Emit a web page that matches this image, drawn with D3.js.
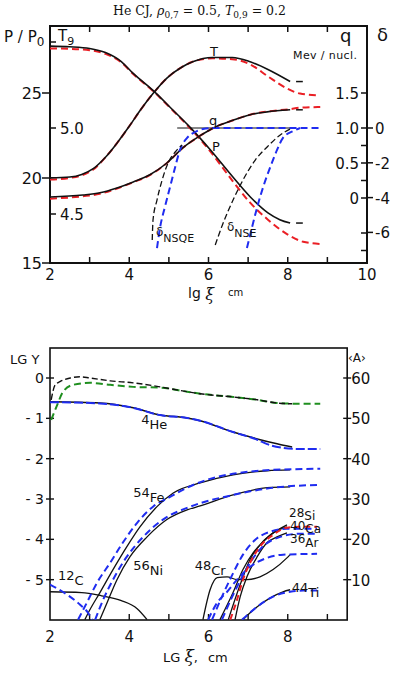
<!DOCTYPE html>
<html><head><meta charset="utf-8">
<script src="https://cdn.jsdelivr.net/npm/d3@7/dist/d3.min.js"></script>
<style>
body{margin:0;background:#fff}
svg text{font-family:"DejaVu Sans",sans-serif;fill:#111}
</style></head>
<body><svg id="c" width="399" height="675"></svg>
<script>
// ---------- DATA (top panel) ----------
const xTickLabels = [2, 4, 6, 8, 10];
const pTicks = [15, 20, 25];
const tTicks = [4.5, 5.0];
const qTicks = [0, 0.5, 1.0, 1.5];
const dTicks = [0, -2, -4, -6];
// [lg xi, value]
const T_black = [[2.0,4.71],[2.5,4.715],[2.8,4.73],[3.1,4.765],[3.4,4.83],[3.7,4.915],[4.0,5.01],[4.3,5.11],[4.6,5.20],[4.95,5.29],[5.3,5.35],[5.6,5.385],[6.1,5.41],[6.6,5.41],[7.05,5.385],[7.5,5.34],[8.06,5.27]];
const T_red = [[2.0,4.70],[2.5,4.71],[2.8,4.725],[3.1,4.76],[3.4,4.83],[3.7,4.915],[4.0,5.01],[4.3,5.11],[4.6,5.20],[4.95,5.29],[5.3,5.35],[5.6,5.385],[6.1,5.405],[6.6,5.40],[7.05,5.37],[7.5,5.30],[7.98,5.23],[8.31,5.20],[8.77,5.19]];
const P_black = [[2.0,27.76],[2.5,27.72],[3.0,27.62],[3.4,27.38],[3.8,26.85],[4.1,26.15],[4.6,25.15],[5.1,24.0],[5.55,22.95],[6.05,21.65],[6.6,20.1],[7.05,18.9],[7.5,17.95],[7.8,17.55],[8.06,17.35]];
const P_red = [[2.0,27.62],[2.5,27.6],[3.0,27.52],[3.4,27.3],[3.8,26.8],[4.1,26.12],[4.6,25.12],[5.1,23.97],[5.55,22.9],[6.05,21.55],[6.6,19.85],[7.05,18.55],[7.5,17.55],[7.98,16.7],[8.39,16.25],[8.82,16.12]];
const q_black = [[2.00,0.014],[2.83,0.043],[3.26,0.075],[3.69,0.143],[4.10,0.229],[4.53,0.335],[4.95,0.50],[5.36,0.72],[5.79,0.89],[6.12,1.00],[6.62,1.11],[7.05,1.19],[7.48,1.23],[8.06,1.26]];
const q_red = [[2.00,-0.01],[2.83,0.025],[3.26,0.06],[3.69,0.135],[4.10,0.225],[4.53,0.33],[4.95,0.50],[5.36,0.72],[5.79,0.89],[6.12,1.00],[6.62,1.11],[7.05,1.19],[7.48,1.235],[8.06,1.27],[8.31,1.29],[8.82,1.30]];
const dNSQE_black = [[4.58,-6.44],[4.60,-5.29],[4.70,-4.14],[4.83,-2.99],[4.98,-2.01],[5.16,-1.38],[5.33,-0.98]];
const dNSQE_blue = [[4.70,-6.90],[4.78,-5.69],[4.90,-4.54],[5.03,-3.39],[5.16,-2.24],[5.28,-1.26],[5.46,-0.57],[5.66,-0.23],[5.86,-0.06],[6.17,0],[8.82,0]];
const dNSE_black = [[6.17,-6.72],[6.37,-5.46],[6.62,-4.14],[6.87,-2.99],[7.18,-1.84],[7.48,-1.09],[7.81,-0.40],[8.11,0]];
const dNSE_blue = [[6.97,-6.90],[7.10,-5.69],[7.23,-4.54],[7.38,-3.39],[7.56,-2.24],[7.73,-1.26],[7.88,-0.57],[8.14,-0.17],[8.31,0]];
const d_zeroLine = [[5.21,0],[8.11,0]];

// ---------- DATA (bottom panel) ----------
const lgYTicks = [0, -1, -2, -3, -4, -5];
const aTicks = [10, 20, 30, 40, 50, 60];
const xTickLabelsB = [2, 4, 6, 8];
const A_black = [[2.03,54.6],[2.13,58.3],[2.25,59.1],[2.51,60.0],[2.76,60.3],[3.01,60.0],[3.52,59.3],[4.10,58.8],[4.78,57.8],[5.46,56.6],[5.79,56.1],[6.62,55.3],[7.23,54.6],[7.73,53.8],[8.11,53.6]];
const A_green = [[2.03,49.6],[2.18,53.3],[2.33,56.6],[2.58,58.3],[3.01,58.8],[3.52,58.3],[4.10,57.8],[4.78,57.6],[5.46,56.6],[5.79,56.1],[6.62,55.3],[7.23,54.6],[7.73,53.8],[8.31,53.6],[8.82,53.6]];
const He_black = [[2.00,-0.59],[3.26,-0.62],[4.10,-0.74],[4.78,-0.92],[5.46,-0.99],[5.79,-1.06],[6.62,-1.34],[7.23,-1.51],[7.73,-1.63],[8.11,-1.71]];
const He_blue = [[2.00,-0.60],[3.26,-0.63],[4.10,-0.74],[4.78,-0.92],[5.46,-0.99],[5.79,-1.06],[6.62,-1.34],[7.23,-1.53],[7.48,-1.64],[7.88,-1.73],[8.31,-1.76],[8.82,-1.76]];
const Fe_black = [[2.88,-5.99],[3.01,-5.74],[3.26,-5.32],[3.59,-4.75],[3.94,-4.18],[4.27,-3.69],[4.70,-3.19],[5.11,-2.85],[5.79,-2.60],[6.62,-2.40],[7.48,-2.30],[8.06,-2.28]];
const Fe_blue = [[2.71,-5.99],[2.93,-5.57],[3.19,-5.07],[3.52,-4.58],[3.84,-4.08],[4.20,-3.59],[4.60,-3.19],[5.03,-2.95],[5.46,-2.72],[6.04,-2.50],[6.80,-2.35],[7.56,-2.28],[8.82,-2.25]];
const Ni_black = [[3.26,-5.99],[3.44,-5.57],[3.69,-5.00],[4.02,-4.43],[4.45,-3.94],[4.95,-3.51],[5.46,-3.27],[5.79,-3.17],[6.62,-2.90],[7.48,-2.72],[8.06,-2.70]];
const Ni_blue = [[3.14,-5.99],[3.34,-5.50],[3.59,-5.00],[3.94,-4.43],[4.35,-3.94],[4.85,-3.51],[5.54,-3.19],[6.62,-2.90],[7.48,-2.74],[8.74,-2.65]];
const C_black = [[2.00,-5.30],[2.80,-5.32],[3.30,-5.40],[3.80,-5.52],[4.20,-5.72],[4.45,-5.99]];
const C_blue = [[2.00,-5.12],[2.43,-5.37],[2.76,-5.62],[2.96,-5.82],[3.06,-5.99]];
const Cr_black = [[5.86,-5.99],[6.04,-5.25],[6.22,-4.95],[6.47,-4.93],[6.72,-5.00],[6.97,-5.00],[7.30,-4.93],[7.63,-4.75],[7.98,-4.46],[8.06,-4.38]];
const Cr_blue = [[5.99,-5.99],[6.22,-5.57],[6.47,-5.30],[6.72,-5.00],[7.05,-4.68],[7.48,-4.46],[7.88,-4.38],[8.74,-4.36]];
const Si_black = [[6.29,-5.99],[6.62,-5.32],[6.87,-4.75],[7.13,-4.33],[7.38,-4.06],[7.63,-3.84],[7.98,-3.69]];
const Ca_black = [[6.50,-5.99],[6.80,-5.12],[7.05,-4.50],[7.35,-4.08],[7.68,-3.81],[7.98,-3.64]];
const Ar_black = [[6.67,-5.99],[6.80,-5.42],[6.97,-4.93],[7.23,-4.43],[7.48,-4.08],[7.73,-3.94],[7.98,-3.84]];
const Ca_red = [[6.55,-5.99],[6.72,-5.50],[6.87,-5.00],[7.05,-4.58],[7.30,-4.18],[7.63,-3.89],[7.98,-3.71],[8.31,-3.69],[8.74,-3.69]];
const Si_blue = [[6.09,-5.99],[6.34,-5.42],[6.60,-4.88],[6.87,-4.38],[7.18,-4.01],[7.56,-3.81],[7.98,-3.74],[8.74,-3.74]];
const Ar_blue = [[6.34,-5.99],[6.60,-5.42],[6.85,-4.93],[7.13,-4.46],[7.43,-4.13],[7.81,-3.94],[8.31,-3.86],[8.74,-3.86]];
const Ti_black = [[6.87,-5.99],[7.23,-5.67],[7.56,-5.45],[7.88,-5.30],[8.06,-5.25]];
const Ti_blue = [[6.85,-5.99],[7.23,-5.67],[7.63,-5.42],[8.06,-5.30],[8.39,-5.27],[8.74,-5.27]];

// ---------- DRAW ----------
const svg = d3.select("#c");
const RED = "#ea1f25", BLUE = "#1f2cf0", GREEN = "#1f8f1f", BLK = "#111";

const title = svg.append("text").attr("x",199.5).attr("y",15).attr("text-anchor","middle")
  .style("font-family","'DejaVu Serif','Liberation Serif',serif").style("font-size","12.5px");
title.append("tspan").text("He CJ, ");
title.append("tspan").style("font-style","italic").text("ρ");
title.append("tspan").attr("dy",3).style("font-size","9px").text("0,7");
title.append("tspan").attr("dy",-3).text(" = 0.5, ");
title.append("tspan").style("font-style","italic").text("T");
title.append("tspan").attr("dy",3).style("font-size","9px").text("0,9");
title.append("tspan").attr("dy",-3).text(" = 0.2");

// ===== TOP PANEL =====
const x = d3.scaleLinear([2,10],[50,367]);
const yP = d3.scaleLinear([15,30],[263,8]);
const yT = d3.scaleLinear([4.5,5.5],[214,42]);
const yQ = d3.scaleLinear([0,1.5],[198,93]);
const yD = d3.scaleLinear([-6,0],[232.4,128]);
const topY0 = 26, topY1 = 263;

const gTop = svg.append("g");
gTop.append("rect").attr("x",x(2)).attr("y",topY0).attr("width",x(10)-x(2)).attr("height",topY1-topY0)
  .attr("fill","none").attr("stroke",BLK).attr("stroke-width",2);

const intTicks = d3.range(2,11);
gTop.selectAll(".bt").data(intTicks).join("line")
  .attr("x1",d=>x(d)).attr("x2",d=>x(d)).attr("y1",topY1).attr("y2",topY1-6).attr("stroke",BLK).attr("stroke-width",1.5);
gTop.selectAll(".tt").data(intTicks).join("line")
  .attr("x1",d=>x(d)).attr("x2",d=>x(d)).attr("y1",topY0).attr("y2",topY0+6).attr("stroke",BLK).attr("stroke-width",1.5);
gTop.selectAll(".bl").data(xTickLabels).join("text")
  .attr("x",d=>x(d)).attr("y",280).attr("text-anchor","middle").style("font-size","15px").text(d=>d);

gTop.selectAll(".pt").data(pTicks).join("line")
  .attr("x1",x(2)-8).attr("x2",x(2)).attr("y1",d=>yP(d)).attr("y2",d=>yP(d)).attr("stroke",BLK).attr("stroke-width",1.5);
gTop.selectAll(".pl").data(pTicks).join("text")
  .attr("x",x(2)-8).attr("y",d=>yP(d)+6).attr("text-anchor","end").style("font-size","16px").text(d=>d);
gTop.selectAll(".tk").data([4.5,5.0,5.5]).join("line")
  .attr("x1",x(2)).attr("x2",x(2)+6).attr("y1",d=>yT(d)).attr("y2",d=>yT(d)).attr("stroke",BLK).attr("stroke-width",1.5);
gTop.selectAll(".tl").data(tTicks).join("text")
  .attr("x",x(2)+10).attr("y",d=>yT(d)+6).style("font-size","15px").text(d=>d.toFixed(1));

gTop.selectAll(".qk").data([1.5,1.0,0.75,0.5,0.25,0,-0.5,-0.75]).join("line")
  .attr("x1",x(10)-6).attr("x2",x(10)).attr("y1",d=>yQ(d)).attr("y2",d=>yQ(d)).attr("stroke",BLK).attr("stroke-width",1.5);
gTop.selectAll(".ql").data(qTicks).join("text")
  .attr("x",x(10)-8).attr("y",d=>yQ(d)+6).attr("text-anchor","end").style("font-size","15px").text(d=>d===0?"0":d.toFixed(1));
gTop.selectAll(".dk").data(dTicks).join("line")
  .attr("x1",x(10)).attr("x2",x(10)+6).attr("y1",d=>yD(d)).attr("y2",d=>yD(d)).attr("stroke",BLK).attr("stroke-width",1.5);
gTop.selectAll(".dl").data(dTicks).join("text")
  .attr("x",x(10)+8).attr("y",d=>yD(d)+6).style("font-size","15px").text(d=>d===0?"0":"-"+Math.abs(d));

const pt = gTop.append("text").attr("x",4).attr("y",42).style("font-size","15px");
pt.append("tspan").text("P / P");
pt.append("tspan").attr("dy",4).style("font-size","12px").text("0");
const tt = gTop.append("text").attr("x",58).attr("y",41).style("font-size","15px");
tt.append("tspan").text("T");
tt.append("tspan").attr("dy",4).style("font-size","11px").text("9");
gTop.append("text").attr("x",340).attr("y",42).style("font-size","18px").text("q");
gTop.append("text").attr("x",377).attr("y",41).style("font-size","18px").text("δ");
gTop.append("text").attr("x",293).attr("y",59).style("font-size","11px").style("letter-spacing","0.4px").text("Mev / nucl.");
const xl = gTop.append("text").attr("x",188).attr("y",298).style("font-size","14px");
xl.append("tspan").text("lg ");
xl.append("tspan").attr("dy",2).style("font-family","'DejaVu Serif',serif").style("font-style","italic").style("font-size","16px").text("ξ");
xl.append("tspan").attr("dx",14).attr("dy",-4).style("font-size","10px").text("cm");

const lineG = (ys) => d3.line().x(d=>x(d[0])).y(d=>ys(d[1])).curve(d3.curveMonotoneX);
function draw(g, data, gen, color, w, dash){
  g.append("path").attr("d",gen(data)).attr("fill","none").attr("stroke",color)
   .attr("stroke-width",w).attr("stroke-dasharray",dash||null).attr("stroke-linecap","butt");
}
draw(gTop, d_zeroLine, lineG(yD), BLK, 1);
draw(gTop, T_red, lineG(yT), RED, 2, "7,4");
draw(gTop, T_black, lineG(yT), BLK, 1.6);
draw(gTop, P_red, lineG(yP), RED, 2, "7,4");
draw(gTop, P_black, lineG(yP), BLK, 1.6);
draw(gTop, q_red, lineG(yQ), RED, 2, "7,4");
draw(gTop, q_black, lineG(yQ), BLK, 1.6);
draw(gTop, dNSQE_blue, lineG(yD), BLUE, 2, "7,4");
draw(gTop, dNSE_blue, lineG(yD), BLUE, 2, "7,4");
draw(gTop, dNSQE_black, lineG(yD), BLK, 1.3, "6,3");
draw(gTop, dNSE_black, lineG(yD), BLK, 1.3, "6,3");
[[T_black,yT],[P_black,yP],[q_black,yQ]].forEach(([s,ys])=>{
  const last = s[s.length-1];
  gTop.append("line").attr("x1",x(last[0]+0.15)).attr("x2",x(last[0]+0.32))
    .attr("y1",ys(last[1])).attr("y2",ys(last[1])).attr("stroke",BLK).attr("stroke-width",1.5);
});
gTop.append("text").attr("x",210).attr("y",56).style("font-size","13px").text("T");
gTop.append("text").attr("x",209).attr("y",125).style("font-size","13px").text("q");
gTop.append("text").attr("x",212).attr("y",151).style("font-size","13px").text("P");
const l1 = gTop.append("text").attr("x",156).attr("y",236).style("font-size","12px");
l1.append("tspan").text("δ"); l1.append("tspan").attr("dy",6).style("font-size","11px").text("NSQE");
const l2 = gTop.append("text").attr("x",227).attr("y",231).style("font-size","12px");
l2.append("tspan").text("δ"); l2.append("tspan").attr("dy",6).style("font-size","11px").text("NSE");

// ===== BOTTOM PANEL =====
const xb = d3.scaleLinear([2,10],[50,367]);
const yY = d3.scaleLinear([-6,0],[620,378]);
const yA = d3.scaleLinear([0,60],[620,378]);
const bY0 = 348, bY1 = 620, bX1 = xb(9.5);
const bot = svg.append("g");
bot.append("rect").attr("x",xb(2)).attr("y",bY0).attr("width",bX1-xb(2)).attr("height",bY1-bY0)
  .attr("fill","none").attr("stroke",BLK).attr("stroke-width",1.6);
bot.selectAll(".bt").data(d3.range(3,10)).join("line")
  .attr("x1",d=>xb(d)).attr("x2",d=>xb(d)).attr("y1",bY1).attr("y2",bY1-6).attr("stroke",BLK).attr("stroke-width",1.4);
bot.selectAll(".bl").data(xTickLabelsB).join("text")
  .attr("x",d=>xb(d)).attr("y",642).attr("text-anchor","middle").style("font-size","15px").text(d=>d);
bot.selectAll(".lk").data(lgYTicks).join("line")
  .attr("x1",xb(2)-4).attr("x2",xb(2)+4).attr("y1",d=>yY(d)).attr("y2",d=>yY(d)).attr("stroke",BLK).attr("stroke-width",1.4);
bot.selectAll(".ll").data(lgYTicks).join("text")
  .attr("x",xb(2)-6).attr("y",d=>yY(d)+5).attr("text-anchor","end").style("font-size","14px")
  .text(d=>d===0?"0":"- "+Math.abs(d));
bot.selectAll(".rk").data(aTicks).join("line")
  .attr("x1",bX1-4).attr("x2",bX1+4).attr("y1",d=>yA(d)).attr("y2",d=>yA(d)).attr("stroke",BLK).attr("stroke-width",1.4);
bot.selectAll(".rl").data(aTicks).join("text")
  .attr("x",bX1+4).attr("y",d=>yA(d)+6).style("font-size","15px").text(d=>d);
bot.append("text").attr("x",10).attr("y",364).style("font-size","13px").text("LG Y");
bot.append("text").attr("x",348).attr("y",362).style("font-size","12px").text("‹A›");
const xl2 = bot.append("text").attr("x",163).attr("y",662).style("font-size","13px");
xl2.append("tspan").text("LG ");
xl2.append("tspan").style("font-family","'DejaVu Serif',serif").style("font-style","italic").style("font-size","17px").text("ξ");
xl2.append("tspan").text(",");
xl2.append("tspan").attr("dx",10).text("cm");

const lY = d3.line().x(d=>xb(d[0])).y(d=>yY(d[1])).curve(d3.curveMonotoneX);
const lA = d3.line().x(d=>xb(d[0])).y(d=>yA(d[1])).curve(d3.curveMonotoneX);
svg.append("clipPath").attr("id","cb").append("rect")
  .attr("x",xb(2)).attr("y",bY0).attr("width",bX1-xb(2)).attr("height",bY1-bY0);
const bc = bot.append("g").attr("clip-path","url(#cb)");

draw(bc, A_green, lA, GREEN, 2, "7,4");
draw(bc, A_black, lA, BLK, 1.4, "6,3");
draw(bc, He_black, lY, BLK, 1.5);
draw(bc, He_blue, lY, BLUE, 2, "9,3");
[Fe_black, Ni_black, C_black, Cr_black, Si_black, Ca_black, Ar_black, Ti_black].forEach(s=>draw(bc, s, lY, BLK, 1.3));
[Fe_blue, Ni_blue, C_blue, Cr_blue, Si_blue, Ar_blue, Ti_blue].forEach(s=>draw(bc, s, lY, BLUE, 2, "7,4"));
draw(bc, Ca_red, lY, RED, 2, "6,4");

function iso(xp, yp, mass, el, size, dy){
  const t = bot.append("text").attr("x",xp).attr("y",yp).style("font-size",(size||13)+"px");
  t.append("tspan").text(mass);
  t.append("tspan").attr("dy",dy==null?5:dy).text(el);
}
iso(xb(4.3), yY(-1.15), "4", "He");
iso(xb(4.1), yY(-2.95), "54", "Fe");
iso(xb(4.1), yY(-4.75), "56", "Ni");
iso(xb(2.2), yY(-5.0), "12", "C");
iso(xb(5.65), yY(-4.75), "48", "Cr");
iso(289, 517, "28", "Si", 12, 3);
iso(290, 530, "40", "Ca", 12, 3);
iso(290, 543, "36", "Ar", 12, 4);
iso(xb(8.1), yY(-5.3), "44", "Ti");
</script></body></html>
